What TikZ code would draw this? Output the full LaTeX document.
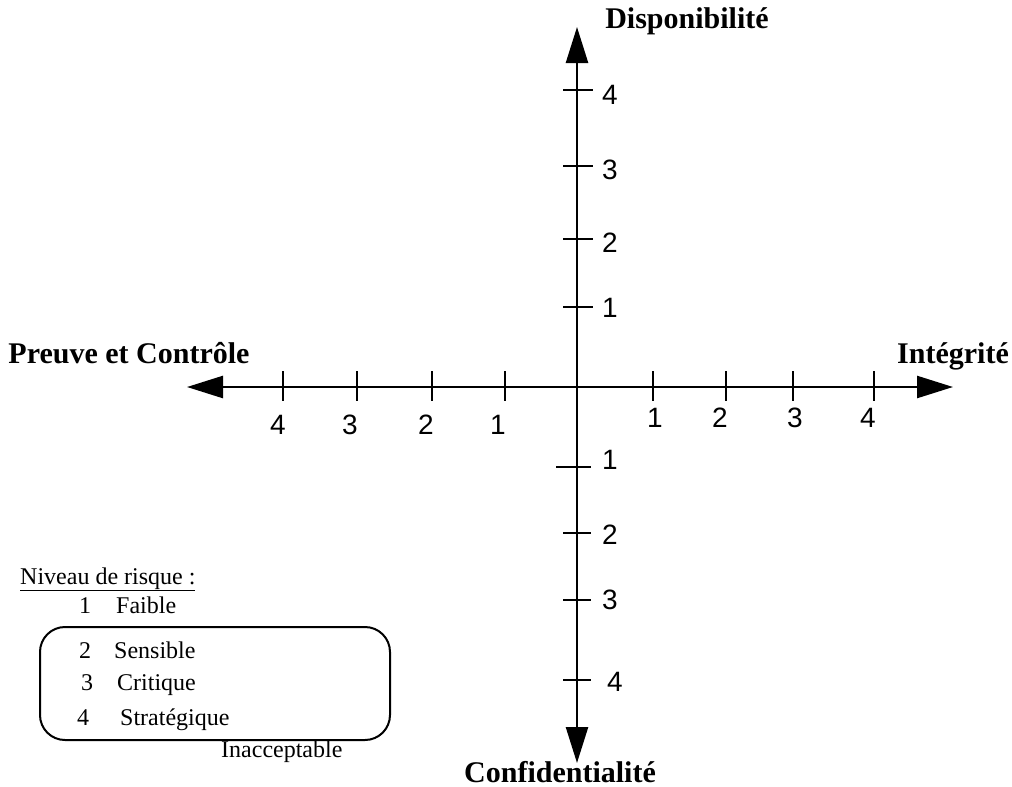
\documentclass[tikz,border=0pt]{standalone}
\usepackage{fontspec}
\setmainfont{Liberation Serif}
\newfontfamily\numfont{Liberation Sans}
\usetikzlibrary{arrows.meta}
\newcommand{\titlesize}{\fontsize{30}{36}\selectfont\bfseries}
\newcommand{\legsize}{\fontsize{24}{28}\selectfont}
\newcommand{\ticksize}{\numfont\fontsize{28}{32}\selectfont}

\begin{document}
\begin{tikzpicture}[x=1pt,y=-1pt,>={Triangle[length=36pt,width=22pt]},
  axis/.style={line width=2.5pt},
  title/.style={font=\titlesize,inner sep=0pt,anchor=base},
  ticklab/.style={font=\ticksize,inner sep=0pt},
  leg/.style={font=\legsize,inner sep=0pt,anchor=base west},
  legnum/.style={font=\legsize,inner sep=0pt,anchor=base}]
\useasboundingbox (0,0) rectangle (1012,787);
% axis end points
\coordinate (west) at (187,387);
\coordinate (east) at (953,387);
\coordinate (north) at (577,27);
\coordinate (south) at (577,763);
% axes
\draw[axis,<->] (west) -- (east);
\draw[axis,<->] (north) -- (south);
% axis titles
\node[title] (dispo) at (687,28) {Disponibilité};
\node[title] (confid) at (560,782) {Confidentialité};
\node[title] (integ) at (953,363) {Intégrité};
\node[title] (preuve) at (129,363) {Preuve et Contrôle};
% ticks on the left half
\foreach \x/\lab/\lx in {283/4/278,357/3/350,432/2/426,505/1/498}{
  \draw[axis] (\x,371) -- (\x,401);
  \node[ticklab] (pc\lab) at (\lx,425) {\lab};
}
% ticks on the right half
\foreach \x/\lab/\lx in {653/1/655,726/2/720,793/3/795,874/4/868}{
  \draw[axis] (\x,371) -- (\x,401);
  \node[ticklab] (in\lab) at (\lx,418) {\lab};
}
% ticks on the upper half
\foreach \y/\lab/\ly in {307/1/308,239/2/243,166/3/170,90/4/95}{
  \draw[axis] (563,\y) -- (593,\y);
  \node[ticklab] (di\lab) at (610,\ly) {\lab};
}
% ticks on the lower half (the first one is longer)
\draw[axis] (556,467) -- (591,467);
\node[ticklab] (co1) at (610,460) {1};
\foreach \y/\lab/\lx/\ly in {533/2/610/535,600/3/610/600,680/4/615/682}{
  \draw[axis] (563,\y) -- (591,\y);
  \node[ticklab] (co\lab) at (\lx,\ly) {\lab};
}
% legend
\node[leg] (legtitle) at (20,584) {\underline{Niveau de risque :}};
\foreach \lab/\nx/\wx/\by/\word in {1/85/116/613/Faible,2/85/114/658/Sensible,
    3/87/117/690/Critique,4/83/120/725/Stratégique}{
  \node[legnum] (num\lab) at (\nx,\by) {\lab};
  \node[leg] (word\lab) at (\wx,\by) {\word};
}
% frame round the unacceptable levels
\draw[line width=2pt,rounded corners=25pt] (40,627) rectangle (390,740);
\node[leg] (inaccept) at (221,757) {Inacceptable};
\end{tikzpicture}
\end{document}
